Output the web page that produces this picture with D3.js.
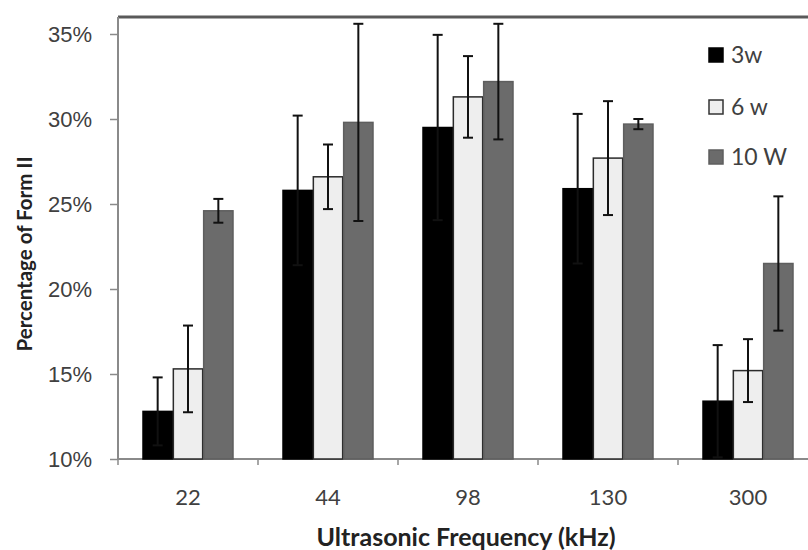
<!DOCTYPE html>
<html>
<head>
<meta charset="utf-8">
<script src="https://cdn.jsdelivr.net/npm/d3@7"></script>
<style>
  html, body { margin: 0; padding: 0; background: #fff; }
  svg { display: block; font-family: Lato, "Open Sans", sans-serif; }
</style>
</head>
<body>
<svg id="chart" width="808" height="550"></svg>
<script>
// Frequencies on the x axis
const categories = ["22", "44", "98", "130", "300"];
// Power levels (legend entries)
const seriesNames = ["3w", "6 w", "10 W"];
// Percentage of Form II, one array per power level
const values3w  = [12.8, 25.8, 29.5, 25.9, 13.4];
const values6w  = [15.3, 26.6, 31.3, 27.7, 15.2];
const values10w = [24.6, 29.8, 32.2, 29.7, 21.5];
// Error bar half-widths
const err3w  = [2.0, 4.4, 5.45, 4.4, 3.3];
const err6w  = [2.55, 1.9, 2.4, 3.35, 1.85];
const err10w = [0.7, 5.8, 3.4, 0.3, 3.95];
// Y axis ticks (percent)
const yTicks = [10, 15, 20, 25, 30, 35];

const seriesValues = [values3w, values6w, values10w];
const seriesErrors = [err3w, err6w, err10w];
const fills   = ["#000000", "#eeeeee", "#6b6b6b"];
const strokes = ["#000000", "#2a2a2a", "#5e5e5e"];

const svg = d3.select("#chart");
const plotLeft = 118, plotRight = 818, plotTop = 17, plotBottom = 459;

const x0 = d3.scaleBand().domain(categories).range([plotLeft, plotRight])
  .paddingInner(0.35).paddingOuter(0.175);
const x1 = d3.scaleBand().domain(seriesNames).range([0, x0.bandwidth()]);
const y = d3.scaleLinear().domain([10, 35]).range([plotBottom, plotBottom - 17 * 25]);

// Top frame line
svg.append("line").attr("x1", plotLeft).attr("x2", 808).attr("y1", plotTop).attr("y2", plotTop)
  .attr("stroke", "#5a5a5a").attr("stroke-width", 3);

// Y axis
const yAxis = svg.append("g").attr("transform", `translate(${plotLeft},0)`)
  .call(d3.axisLeft(y).tickValues(yTicks).tickFormat(d => d + "%").tickSizeOuter(0).tickSize(8).tickPadding(18));
yAxis.select(".domain").attr("stroke", "#8a8a8a").attr("stroke-width", 2)
  .attr("d", `M0,${plotTop}V${plotBottom}`);
yAxis.selectAll(".tick line").attr("stroke", "#8a8a8a").attr("stroke-width", 1.5);
yAxis.selectAll(".tick text").attr("fill", "#404040").attr("font-size", 22);

// X axis: ticks at group boundaries, labels at group centres
const xg = svg.append("g").attr("transform", `translate(0,${plotBottom})`);
xg.append("line").attr("x1", plotLeft).attr("x2", 808).attr("stroke", "#8a8a8a").attr("stroke-width", 2);
const step = x0.step();
const boundaries = categories.map((c, i) => plotLeft + step * i);
xg.selectAll(".xt").data(boundaries).join("line")
  .attr("x1", d => d).attr("x2", d => d).attr("y1", 0).attr("y2", 6)
  .attr("stroke", "#8a8a8a").attr("stroke-width", 1.5);
xg.selectAll(".xl").data(categories).join("text")
  .attr("x", d => x0(d) + x0.bandwidth() / 2).attr("y", 38).attr("dy", "0.35em")
  .attr("text-anchor", "middle").attr("fill", "#404040").attr("font-size", 22)
  .text(d => d);

// Bars
const groups = svg.append("g").selectAll("g").data(categories).join("g")
  .attr("transform", d => `translate(${x0(d)},0)`);
seriesNames.forEach((s, si) => {
  groups.append("rect")
    .attr("x", x1(s) + 0.5)
    .attr("width", x1.bandwidth() - 1)
    .attr("y", (d, i) => y(seriesValues[si][i]))
    .attr("height", (d, i) => plotBottom - y(seriesValues[si][i]))
    .attr("fill", fills[si]).attr("stroke", strokes[si]).attr("stroke-width", 1.5);
});
// Error bars
seriesNames.forEach((s, si) => {
  groups.each(function(d, i) {
    const g = d3.select(this);
    const cx = x1(s) + x1.bandwidth() / 2;
    const v = seriesValues[si][i], e = seriesErrors[si][i];
    const yt = y(v + e), yb = y(v - e);
    g.append("line").attr("x1", cx).attr("x2", cx).attr("y1", yt).attr("y2", yb)
      .attr("stroke", "#111").attr("stroke-width", 2);
    [yt, yb].forEach(yy => g.append("line").attr("x1", cx - 5).attr("x2", cx + 5)
      .attr("y1", yy).attr("y2", yy).attr("stroke", "#111").attr("stroke-width", 2));
  });
});

// Legend
const legendY = [55, 107, 157];
const lg = svg.append("g");
seriesNames.forEach((s, si) => {
  lg.append("rect").attr("x", 709).attr("y", legendY[si] - 7).attr("width", 14).attr("height", 14)
    .attr("fill", fills[si]).attr("stroke", si === 1 ? "#333" : strokes[si]).attr("stroke-width", 1.5);
  lg.append("text").attr("x", 731).attr("y", legendY[si]).attr("dy", "0.35em")
    .attr("fill", "#404040").attr("font-size", 23).text(s);
});

// Axis titles
svg.append("text").attr("x", 466).attr("y", 537).attr("dy", "0.35em")
  .attr("text-anchor", "middle").attr("font-weight", "bold").attr("font-size", 25)
  .attr("fill", "#222").text("Ultrasonic Frequency (kHz)");
svg.append("text").attr("transform", "translate(25,254) rotate(-90)").attr("dy", "0.35em")
  .attr("text-anchor", "middle").attr("font-weight", "bold").attr("font-size", 20.5)
  .attr("fill", "#222").text("Percentage of Form II");
</script>
</body>
</html>
